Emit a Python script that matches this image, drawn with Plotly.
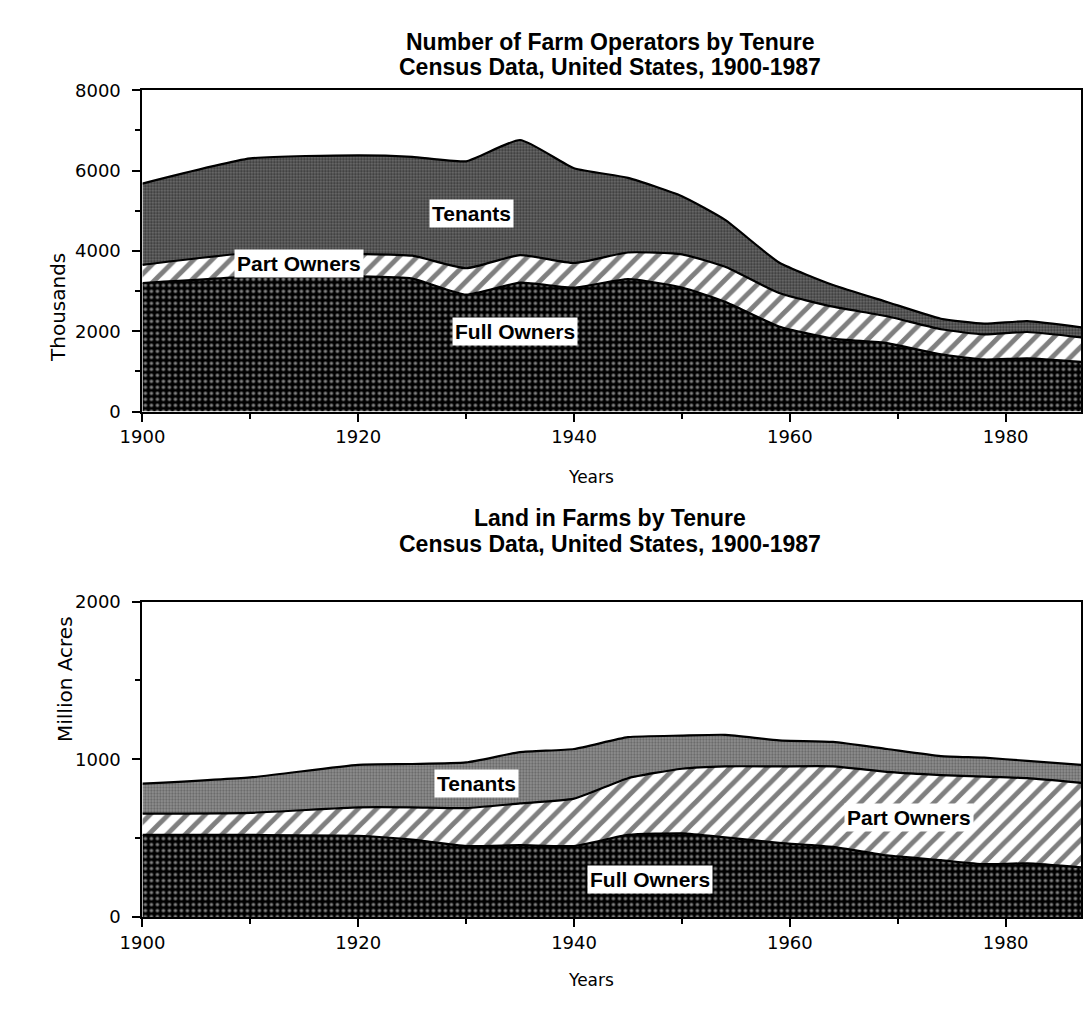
import plotly.graph_objects as go

years = [1900, 1910, 1920, 1925, 1930, 1935, 1940, 1945, 1950, 1954, 1959, 1964, 1969, 1974, 1978, 1982, 1987]

# Number of farm operators (thousands)
ops_full = [3202, 3355, 3367, 3313, 2912, 3210, 3085, 3301, 3090, 2737, 2119, 1818, 1705, 1424, 1298, 1326, 1239]
ops_part = [451, 594, 559, 569, 657, 688, 615, 661, 825, 868, 834, 794, 669, 627, 624, 656, 609]
ops_tenants = [2025, 2355, 2455, 2462, 2664, 2865, 2361, 1859, 1447, 1168, 760, 540, 355, 262, 267, 271, 249]

# Land in farms (million acres)
land_full = [520, 520, 515, 490, 450, 455, 450, 520, 530, 505, 470, 445, 390, 360, 335, 340, 315]
land_part = [135, 140, 180, 205, 240, 265, 300, 360, 410, 450, 485, 510, 530, 540, 555, 540, 535]
land_tenants = [190, 225, 270, 275, 290, 325, 315, 260, 210, 200, 165, 155, 145, 120, 120, 110, 115]

x_ticks = [1900, 1920, 1940, 1960, 1980]
ops_ticks = [0, 2000, 4000, 6000, 8000]
land_ticks = [0, 1000, 2000]

TITLE_FONT = dict(family="Liberation Sans", size=23, color="black")
TICK_FONT = dict(family="DejaVu Sans", size=18, color="black")
AXT_FONT = dict(family="DejaVu Sans", size=20, color="black")
LAB_FONT = dict(family="Liberation Sans", size=21, color="black")
YEARS_FONT = dict(family="DejaVu Sans", size=17, color="black")

fig = go.Figure()

def add_stack(x, y, group, xa, ya, pattern):
    fig.add_trace(go.Scatter(
        x=x, y=y, stackgroup=group, xaxis=xa, yaxis=ya,
        mode="lines", line=dict(color="black", width=2.2, shape="spline", smoothing=0.5),
        fillcolor=pattern.get("bgcolor"), fillpattern=pattern, showlegend=False,
        hoverinfo="skip"))

full_pat = dict(shape=".", bgcolor="black", fgcolor="white", size=6, solidity=0.28)
part_pat = dict(shape="/", bgcolor="white", fgcolor="black", size=13, solidity=0.38)
ten_pat_top = dict(shape=".", bgcolor="#333333", fgcolor="#c0c0c0", size=3, solidity=0.45)
ten_pat_bot = dict(shape=".", bgcolor="#5e5e5e", fgcolor="#e6e6e6", size=3, solidity=0.45)

add_stack(years, ops_full, "a", "x", "y", full_pat)
add_stack(years, ops_part, "a", "x", "y", part_pat)
add_stack(years, ops_tenants, "a", "x", "y", ten_pat_top)
add_stack(years, land_full, "b", "x2", "y2", full_pat)
add_stack(years, land_part, "b", "x2", "y2", part_pat)
add_stack(years, land_tenants, "b", "x2", "y2", ten_pat_bot)

H = 1020.0
W = 1090.0
xdom = [122 / W, 1081 / W]
top_dom = [1 - 409 / H, 1 - 81 / H]
bot_dom = [1 - 925 / H, 1 - 603 / H]

def xaxis(anchor):
    return dict(range=[1900, 1987], tickvals=x_ticks, ticktext=[str(v) for v in x_ticks],
                ticks="outside", ticklen=8, tickwidth=2, tickcolor="black",
                minor=dict(dtick=10, tick0=1900, ticks="outside", ticklen=5, tickwidth=2, tickcolor="black"),
                showline=True, linecolor="black", linewidth=2, mirror=True,
                showgrid=False, zeroline=False, tickfont=TICK_FONT, anchor=anchor,
                domain=xdom, fixedrange=True)

def yaxis(rng, ticks, minor, anchor, dom):
    return dict(range=rng, tickvals=ticks, ticktext=[str(v) for v in ticks],
                ticks="outside", ticklen=8, tickwidth=2, tickcolor="black",
                minor=dict(dtick=minor, tick0=0, ticks="outside", ticklen=5, tickwidth=2, tickcolor="black"),
                showline=True, linecolor="black", linewidth=2, mirror=True,
                showgrid=False, zeroline=False, tickfont=TICK_FONT, anchor=anchor,
                ticklabelstandoff=8, domain=dom, fixedrange=True)

fig.update_layout(
    width=1090, height=1020, margin=dict(l=0, r=0, t=0, b=0),
    paper_bgcolor="white", plot_bgcolor="white",
    xaxis=xaxis("y"), yaxis=yaxis([0, 8000], ops_ticks, 1000, "x", top_dom),
    xaxis2=xaxis("y2"), yaxis2=yaxis([0, 2000], land_ticks, 500, "x2", bot_dom),
)

def label(text, x, y, xref, yref):
    fig.add_annotation(text="<b>%s</b>" % text, x=x, y=y, xref=xref, yref=yref, showarrow=False,
                       bgcolor="white", borderpad=2, font=LAB_FONT)

label("Tenants", 1930.5, 4930, "x", "y")
label("Part Owners", 1914.5, 3700, "x", "y")
label("Full Owners", 1934.5, 2000, "x", "y")
label("Tenants", 1931.0, 845, "x2", "y2")
label("Part Owners", 1971.0, 630, "x2", "y2")
label("Full Owners", 1947.0, 235, "x2", "y2")

def text(t, x, y, font, bold=False, angle=0):
    fig.add_annotation(text=("<b>%s</b>" % t) if bold else t, x=x / W, y=1 - y / H,
                       xref="paper", yref="paper", showarrow=False, font=font, textangle=angle)

text("Number of Farm Operators by Tenure", 600, 16, TITLE_FONT, True)
text("Census Data, United States, 1900-1987", 600, 42, TITLE_FONT, True)
text("Thousands", 22, 245, AXT_FONT, angle=-90)
text("Years", 580, 476, YEARS_FONT)
text("Land in Farms by Tenure", 600, 518, TITLE_FONT, True)
text("Census Data, United States, 1900-1987", 600, 544, TITLE_FONT, True)
text("Million Acres", 28, 748, AXT_FONT, angle=-90)
text("Years", 580, 1002, YEARS_FONT)

fig.write_html("out.html", config={"displayModeBar": False},
               post_script="document.body.style.margin='0px';")
